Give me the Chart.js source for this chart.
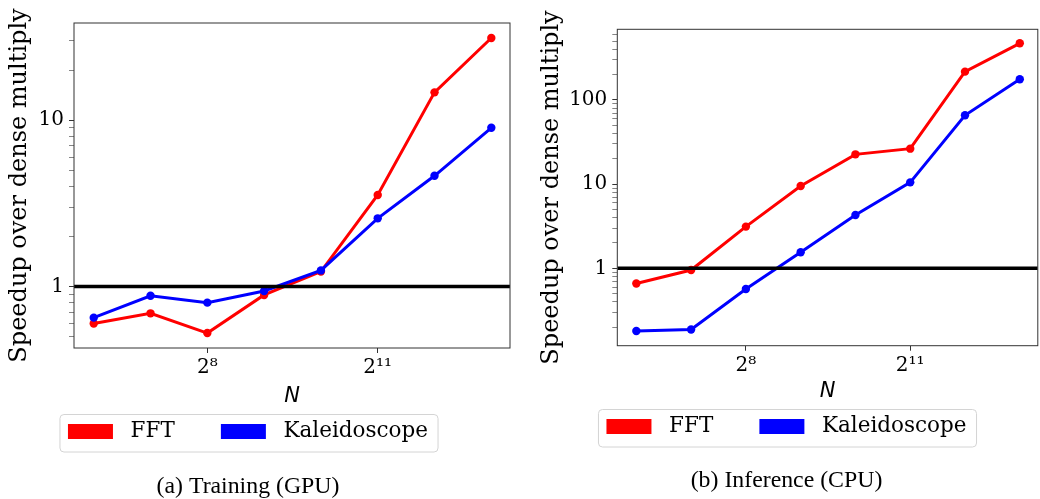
<!DOCTYPE html>
<html>
<head>
<meta charset="utf-8">
<script src="https://cdn.jsdelivr.net/npm/chart.js@4.4.0/dist/chart.umd.min.js"></script>
<style>
html, body { margin: 0; padding: 0; background: #fff; overflow: hidden; }
body { width: 1040px; height: 499px; position: relative; }
.panel { position: absolute; top: 0; height: 499px; }
#left { left: -14px; width: 544px; }
#right { left: 532px; width: 510px; }
</style>
</head>
<body>
<div class="panel" id="left"><canvas id="trainChart"></canvas></div>
<div class="panel" id="right"><canvas id="inferChart"></canvas></div>
<script>
const sizes = [64, 128, 256, 512, 1024, 2048, 4096, 8192];

const trainFFT = [0.60, 0.69, 0.525, 0.89, 1.23, 3.55, 14.7, 31.2];
const trainKaleido = [0.65, 0.88, 0.80, 0.94, 1.25, 2.57, 4.63, 9.0];
const inferFFT = [0.66, 0.955, 3.13, 9.5, 22.6, 26.4, 217, 471];
const inferKaleido = [0.18, 0.188, 0.568, 1.55, 4.3, 10.5, 65.8, 176];

const xTickValues = [256, 2048];
const xTickLabels = ['2⁸', '2¹¹'];
const trainYTicks = [0.5, 0.6, 0.7, 0.8, 0.9, 1, 2, 3, 4, 5, 6, 7, 8, 9, 10, 20, 30];
const trainYLabels = [1, 10];
const inferYTicks = [0.2, 0.3, 0.4, 0.5, 0.6, 0.7, 0.8, 0.9, 1, 2, 3, 4, 5, 6, 7, 8, 9,
    10, 20, 30, 40, 50, 60, 70, 80, 90, 100, 200, 300, 400, 500, 600];
const inferYLabels = [1, 10, 100];

const baseline = 1;
const xMin = 50.3;
const xMax = 10290;

const frame = {
    id: 'frame',
    afterDatasetsDraw(chart) {
        const a = chart.chartArea;
        const ctx = chart.ctx;
        ctx.save();
        ctx.strokeStyle = '#333';
        ctx.lineWidth = 1;
        ctx.strokeRect(a.left, a.top, a.right - a.left, a.bottom - a.top);
        ctx.restore();
    },
    afterDraw(chart) {
        // rounded box round the legend, like matplotlib's
        const hb = chart.legend.legendHitBoxes;
        if (!hb || !hb.length) return;
        const first = hb[0];
        const last = hb[hb.length - 1];
        const x0 = first.left - 8;
        const x1 = last.left + last.width + 10;
        const yc = first.top + first.height / 2;
        const ctx = chart.ctx;
        ctx.save();
        ctx.strokeStyle = '#d4d4d4';
        ctx.lineWidth = 1;
        ctx.beginPath();
        ctx.roundRect(x0, yc - 17, x1 - x0, 37.5, 4);
        ctx.stroke();
        ctx.restore();
    }
};

function points(values) {
    return values.map((v, i) => ({ x: sizes[i], y: v }));
}

function makeChart(id, opt) {
    const ctx = document.getElementById(id).getContext('2d');
    return new Chart(ctx, {
        type: 'line',
        data: {
            datasets: [
                {
                    label: '',
                    data: [{ x: xMin, y: baseline }, { x: xMax, y: baseline }],
                    borderColor: '#000',
                    borderWidth: 3.5,
                    pointRadius: 0,
                    order: 0
                },
                {
                    label: 'FFT',
                    data: points(opt.fft),
                    borderColor: '#ff0000',
                    backgroundColor: '#ff0000',
                    borderWidth: 3,
                    pointRadius: 4.2,
                    pointBorderWidth: 0,
                    order: 2
                },
                {
                    label: 'Kaleidoscope',
                    data: points(opt.kaleido),
                    borderColor: '#0000ff',
                    backgroundColor: '#0000ff',
                    borderWidth: 3,
                    pointRadius: 4.2,
                    pointBorderWidth: 0,
                    order: 1
                }
            ]
        },
        options: {
            responsive: true,
            maintainAspectRatio: false,
            animation: false,
            events: [],
            layout: { padding: opt.padding },
            scales: {
                x: {
                    type: 'logarithmic',
                    min: xMin,
                    max: xMax,
                    afterBuildTicks: s => { s.ticks = xTickValues.map(v => ({ value: v })); },
                    afterFit: s => { s.height = opt.xAxisHeight; },
                    ticks: {
                        callback: v => xTickLabels[xTickValues.indexOf(v)] || '',
                        font: { family: 'DejaVu Serif', size: 20 },
                        color: '#000',
                        padding: 3,
                        maxRotation: 0,
                        autoSkip: false
                    },
                    grid: { display: true, drawOnChartArea: false, tickLength: 5, tickColor: '#333', tickWidth: 1 },
                    border: { display: false },
                    title: {
                        display: true,
                        text: 'N',
                        font: { family: 'DejaVu Sans', size: 21, style: 'italic' },
                        color: '#000',
                        padding: { top: 0, bottom: 0 }
                    }
                },
                y: {
                    type: 'logarithmic',
                    min: opt.yMin,
                    max: opt.yMax,
                    afterBuildTicks: s => { s.ticks = opt.yTicks.map(v => ({ value: v })); },
                    afterFit: s => { s.width = opt.yAxisWidth; },
                    ticks: {
                        callback: v => opt.yLabels.includes(v) ? String(v) : '',
                        font: { family: 'DejaVu Serif', size: 20 },
                        color: '#000',
                        padding: 5,
                        autoSkip: false
                    },
                    grid: {
                        display: true,
                        drawOnChartArea: false,
                        tickLength: 5,
                        tickColor: '#333',
                        tickWidth: c => (c.tick && opt.yLabels.includes(c.tick.value)) ? 1 : 0.6
                    },
                    border: { display: false },
                    title: {
                        display: true,
                        text: 'Speedup over dense multiply',
                        font: { family: 'DejaVu Serif', size: 24 },
                        color: '#000',
                        padding: { top: opt.yTitlePad, bottom: 0 }
                    }
                }
            },
            plugins: {
                tooltip: { enabled: false },
                legend: {
                    position: 'bottom',
                    labels: {
                        boxWidth: 45,
                        boxHeight: 15,
                        padding: 12,
                        color: '#000',
                        font: { family: 'DejaVu Serif', size: 21.5 },
                        generateLabels: chart => {
                            const items = Chart.defaults.plugins.legend.labels.generateLabels(chart)
                                .filter(it => it.text !== '')
                                .sort((a, b) => a.datasetIndex - b.datasetIndex);
                            return items.map((it, i) => ({
                                ...it,
                                lineWidth: 0,
                                text: ' ' + it.text + (i < items.length - 1 ? '     ' : '')
                            }));
                        }
                    }
                },
                title: {
                    display: true,
                    position: 'bottom',
                    text: opt.caption,
                    color: '#000',
                    font: { family: 'Liberation Serif', size: 23.8, weight: 'normal', lineHeight: 1 },
                    padding: opt.captionPad
                }
            }
        },
        plugins: [frame]
    });
}

makeChart('trainChart', {
    fft: trainFFT,
    kaleido: trainKaleido,
    yMin: 0.427,
    yMax: 38.4,
    yTicks: trainYTicks,
    yLabels: trainYLabels,
    caption: '(a) Training (GPU)',
    padding: { top: 23, right: 20, bottom: 0, left: 0 },
    xAxisHeight: 60.75,
    yAxisWidth: 88,
    yTitlePad: 19.6,
    captionPad: { top: 22.95, bottom: 0 }
});

makeChart('inferChart', {
    fft: inferFFT,
    kaleido: inferKaleido,
    yMin: 0.1205,
    yMax: 691,
    yTicks: inferYTicks,
    yLabels: inferYLabels,
    caption: '(b) Inference (CPU)',
    padding: { top: 29.3, right: 1, bottom: 0, left: 0 },
    xAxisHeight: 58.05,
    yAxisWidth: 85.3,
    yTitlePad: 5.6,
    captionPad: { top: 21.85, bottom: 6.1 }
});
</script>
</body>
</html>
